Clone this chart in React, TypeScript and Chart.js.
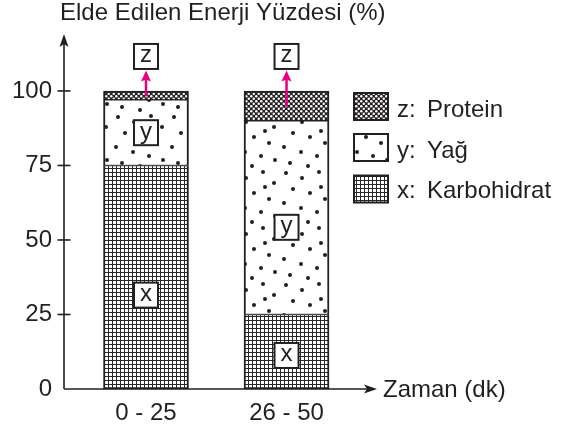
import React, { useEffect, useRef } from "react";
import { Chart, registerables } from "chart.js";

Chart.register(...registerables);

// ---- data ----
const categories = ["0 - 25", "26 - 50"];
const karbohidrat = [75, 25]; // x
const yag = [22, 65]; // y
const protein = [3, 10]; // z
const yTicks = [0, 25, 50, 75, 100];
const seriesLetters = ["x", "y", "z"];
const legendNames = ["Protein", "Yağ", "Karbohidrat"];
const legendLetters = ["z", "y", "x"];
const chartTitle = "Elde Edilen Enerji Yüzdesi (%)";
const xAxisTitle = "Zaman (dk)";

// ---- style ----
const INK = "#231f20";
const MAGENTA = "#e6007e";
const FONT = '"Liberation Sans", Arial, sans-serif';
const labelFrac = [
  [0.42, 0.45],
  [0.5, 0.45],
];

function makeGridTile() {
  const c = document.createElement("canvas");
  c.width = 4;
  c.height = 4;
  const g = c.getContext("2d")!;
  g.fillStyle = "#fff";
  g.fillRect(0, 0, 4, 4);
  g.fillStyle = "#2a2728";
  g.fillRect(0, 0, 4, 1);
  g.fillRect(0, 0, 1, 4);
  return c;
}
function makeCheckTile() {
  const c = document.createElement("canvas");
  c.width = 5;
  c.height = 5;
  const g = c.getContext("2d")!;
  g.fillStyle = "#231f20";
  g.fillRect(0, 0, 5, 5);
  g.fillStyle = "#fff";
  const pts = [
    [1.25, 1.25],
    [3.75, 3.75],
  ];
  for (const [x, y] of pts) {
    g.beginPath();
    g.arc(x, y, 1.25, 0, Math.PI * 2);
    g.fill();
  }
  return c;
}
function makeDotTile() {
  const c = document.createElement("canvas");
  c.width = 56;
  c.height = 56;
  const g = c.getContext("2d")!;
  g.fillStyle = "#fff";
  g.fillRect(0, 0, 56, 56);
  g.fillStyle = "#231f20";
  const pts = [
    [6, 5], [22, 10], [39, 4], [50, 15], [13, 21], [30, 25], [45, 31],
    [4, 35], [21, 40], [37, 44], [51, 48], [10, 51], [28, 54], [41, 19],
  ];
  for (const [x, y] of pts) {
    g.beginPath();
    g.arc(x, y, 2, 0, Math.PI * 2);
    g.fill();
  }
  return c;
}

function drawLabelBox(ctx: CanvasRenderingContext2D, cx: number, cy: number, letter: string) {
  const w = 24, h = 25;
  ctx.fillStyle = "#fff";
  ctx.fillRect(cx - w / 2, cy - h / 2, w, h);
  ctx.strokeStyle = INK;
  ctx.lineWidth = 2;
  ctx.strokeRect(cx - w / 2, cy - h / 2, w, h);
  ctx.fillStyle = INK;
  ctx.font = `24px ${FONT}`;
  ctx.textAlign = "center";
  ctx.textBaseline = "alphabetic";
  ctx.fillText(letter, cx, cy + 6);
}

export default function App() {
  const ref = useRef<HTMLCanvasElement | null>(null);

  useEffect(() => {
    const canvas = ref.current!;
    const ctx0 = canvas.getContext("2d")!;
    const gridP = ctx0.createPattern(makeGridTile(), "repeat")!;
    const dotP = ctx0.createPattern(makeDotTile(), "repeat")!;
    const checkP = ctx0.createPattern(makeCheckTile(), "repeat")!;
    const patterns = [gridP, dotP, checkP];
    const legendPatterns = [checkP, dotP, gridP];

    const decor = {
      id: "decor",
      afterDatasetsDraw(chart: any) {
        const ctx: CanvasRenderingContext2D = chart.ctx;
        const ya = chart.scales.y;
        const area = chart.chartArea;
        ctx.save();
        // labels in/above bars
        const metas = [0, 1, 2].map((d) => chart.getDatasetMeta(d));
        for (let i = 0; i < categories.length; i++) {
          for (let d = 0; d < 2; d++) {
            const el = metas[d].data[i];
            const cy = el.base + (el.y - el.base) * labelFrac[d][i];
            drawLabelBox(ctx, el.x, cy, seriesLetters[d]);
          }
          const top = metas[2].data[i];
          const boxCy = top.y - 34.5;
          // arrow
          const startY = (top.y + top.base) / 2 + 1;
          const tipY = boxCy + 14;
          ctx.strokeStyle = MAGENTA;
          ctx.fillStyle = MAGENTA;
          ctx.lineWidth = 2.5;
          ctx.beginPath();
          ctx.moveTo(top.x, startY);
          ctx.lineTo(top.x, tipY + 8);
          ctx.stroke();
          ctx.beginPath();
          ctx.moveTo(top.x, tipY);
          ctx.lineTo(top.x - 5, tipY + 11);
          ctx.lineTo(top.x, tipY + 9);
          ctx.lineTo(top.x + 5, tipY + 11);
          ctx.closePath();
          ctx.fill();
          drawLabelBox(ctx, top.x, boxCy, seriesLetters[2]);
        }

        // axes
        const x0 = area.left;
        const y0 = ya.getPixelForValue(0);
        ctx.strokeStyle = INK;
        ctx.fillStyle = INK;
        ctx.lineWidth = 1.6;
        ctx.beginPath();
        ctx.moveTo(x0, y0);
        ctx.lineTo(x0, 40);
        ctx.moveTo(x0, y0);
        ctx.lineTo(370, y0);
        ctx.stroke();
        // y arrow
        ctx.beginPath();
        ctx.moveTo(x0, 34);
        ctx.lineTo(x0 - 4.5, 47);
        ctx.lineTo(x0, 44);
        ctx.lineTo(x0 + 4.5, 47);
        ctx.closePath();
        ctx.fill();
        // x arrow
        ctx.beginPath();
        ctx.moveTo(377, y0);
        ctx.lineTo(364, y0 - 4.5);
        ctx.lineTo(367, y0);
        ctx.lineTo(364, y0 + 4.5);
        ctx.closePath();
        ctx.fill();
        // ticks
        for (const v of yTicks) {
          if (v === 0) continue;
          const py = ya.getPixelForValue(v);
          ctx.beginPath();
          ctx.moveTo(x0 - 6.5, py);
          ctx.lineTo(x0 + 6.5, py);
          ctx.stroke();
        }

        // titles
        ctx.font = `24px ${FONT}`;
        ctx.textAlign = "left";
        ctx.textBaseline = "alphabetic";
        ctx.fillText(chartTitle, 60, 20);
        ctx.fillText(xAxisTitle, 383, 397);

        // legend
        const boxTops = [93, 134, 175.5];
        const baselines = [116.5, 158, 198];
        for (let k = 0; k < 3; k++) {
          ctx.fillStyle = legendPatterns[k];
          ctx.fillRect(354, boxTops[k], 34, 27);
          ctx.strokeStyle = INK;
          ctx.lineWidth = 2;
          ctx.strokeRect(354, boxTops[k], 34, 27);
          ctx.fillStyle = INK;
          ctx.fillText(legendLetters[k] + ":", 397, baselines[k]);
          ctx.fillText(legendNames[k], 427, baselines[k]);
        }
        ctx.restore();
      },
    };

    const mk = (arr: number[]) => arr.map((v, i) => ({ x: i, y: v }));
    const common = {
      borderColor: INK,
      borderSkipped: false,
      barThickness: 85,
    };

    const chart = new Chart(canvas, {
      type: "bar",
      data: {
        datasets: [
          {
            ...common,
            label: "x",
            data: mk(karbohidrat),
            backgroundColor: patterns[0],
            borderWidth: { left: 2, right: 2, top: 1, bottom: 2 },
          },
          {
            ...common,
            label: "y",
            data: mk(yag),
            backgroundColor: patterns[1],
            borderWidth: { left: 2, right: 2, top: 1, bottom: 1 },
          },
          {
            ...common,
            label: "z",
            data: mk(protein),
            backgroundColor: patterns[2],
            borderWidth: { left: 2, right: 2, top: 2, bottom: 1 },
          },
        ],
      } as any,
      options: {
        responsive: false,
        animation: false,
        layout: { padding: { top: 40, right: 203, left: 0, bottom: 0 } },
        plugins: { legend: { display: false }, tooltip: { enabled: false }, title: { display: false } },
        scales: {
          x: {
            type: "linear",
            stacked: true,
            offset: false,
            min: -0.5836,
            max: 1.594,
            grid: { display: false, drawTicks: false },
            border: { display: false },
            afterBuildTicks: (s: any) => {
              s.ticks = categories.map((_, i) => ({ value: i }));
            },
            afterFit: (s: any) => {
              s.height = 40;
            },
            ticks: {
              callback: (v: any) => categories[v] ?? "",
              font: { family: FONT, size: 24 },
              color: INK,
              padding: 10,
              maxRotation: 0,
              autoSkip: false,
            },
          },
          y: {
            stacked: true,
            min: 0,
            max: 117.1,
            grid: { display: false, drawTicks: false },
            border: { display: false },
            afterBuildTicks: (s: any) => {
              s.ticks = yTicks.map((v) => ({ value: v }));
            },
            afterFit: (s: any) => {
              s.width = 64;
            },
            ticks: {
              font: { family: FONT, size: 24 },
              color: INK,
              padding: 12,
            },
          },
        },
      } as any,
      plugins: [decor],
    });
    return () => chart.destroy();
  }, []);

  return (
    <div style={{ position: "fixed", left: 0, top: 0, width: 573, height: 429, background: "#fff" }}>
      <canvas ref={ref} width={573} height={429} style={{ width: 573, height: 429, display: "block" }} />
    </div>
  );
}
